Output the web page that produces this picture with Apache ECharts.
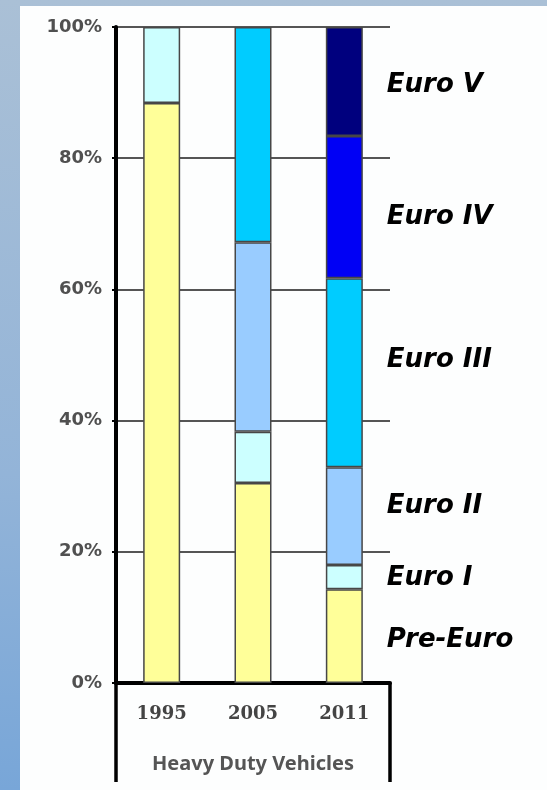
<!DOCTYPE html>
<html>
<head>
<meta charset="utf-8">
<script src="https://cdn.jsdelivr.net/npm/echarts@6/dist/echarts.min.js"></script>
<style>
  html, body { margin: 0; padding: 0; }
  body {
    width: 547px; height: 790px; position: relative; overflow: hidden;
    background: linear-gradient(to bottom, #aac0d6 0%, #93b4d8 60%, #78a6d8 100%);
  }
  #panel { position: absolute; left: 20px; top: 6px; right: 0; bottom: 0; background: #fdfefe; }
  #main { position: absolute; left: 0; top: 0; width: 547px; height: 790px; }
</style>
</head>
<body>
<div id="panel"></div>
<div id="main"></div>
<script>
// years on the x axis
var categories = ['1995', '2005', '2011'];

// share of the fleet (%) per emission class, stacked bottom -> top
var preEuro  = [88.4, 30.5, 14.3];
var euroI    = [11.6, 7.8, 3.7];
var euroII   = [null, 28.9, 14.9];
var euroIII  = [null, 32.8, 28.8];
var euroIV   = [null, null, 21.7];
var euroV    = [null, null, 16.6];

var seriesNames = ['Pre-Euro', 'Euro I', 'Euro II', 'Euro III', 'Euro IV', 'Euro V'];
var seriesValues = [preEuro, euroI, euroII, euroIII, euroIV, euroV];
var seriesColors = ['#ffff99', '#ccffff', '#99ccff', '#00ccff', '#0000f5', '#00007e'];
// small nudges so the class names sit where the original put them
var labelOffsets = [[0, 4], [0, 1], [0, -10], [0, -12], [0, 10], [0, 4]];

var myChart = echarts.init(document.getElementById('main'));

var series = seriesNames.map(function (name, k) {
  return {
    name: name,
    type: 'bar',
    stack: 'fleet',
    barWidth: 37,
    xAxisIndex: 0,
    itemStyle: {
      color: seriesColors[k],
      borderColor: '#474747',
      borderWidth: 1.5
    },
    label: {
      show: false,
      position: 'right',
      distance: 24,
      offset: labelOffsets[k],
      formatter: name,
      color: '#000',
      fontFamily: 'DejaVu Sans',
      fontWeight: 'bold',
      fontStyle: 'italic',
      fontSize: 26
    },
    data: seriesValues[k].map(function (v, i) {
      // only the last column carries the class names
      return i === categories.length - 1 ? { value: v, label: { show: true } } : v;
    })
  };
});

var option = {
  animation: false,
  grid: { left: 116, top: 27, width: 274, height: 656 },
  xAxis: [
    {
      type: 'category',
      data: categories,
      axisLine: { lineStyle: { color: '#000', width: 4 } },
      axisTick: { show: false },
      axisLabel: {
        margin: 22,
        color: '#444',
        fontFamily: 'DejaVu Serif',
        fontWeight: 'bold',
        fontSize: 18
      }
    },
    {
      // box lines under the year labels
      type: 'value',
      position: 'bottom',
      min: 0,
      max: 1,
      interval: 1,
      axisLine: { show: false },
      axisTick: { show: true, length: 99, lineStyle: { color: '#000', width: 3.5 } },
      axisLabel: { show: false },
      splitLine: { show: false },
      name: 'Heavy Duty Vehicles',
      nameLocation: 'middle',
      nameGap: 71,
      nameTextStyle: {
        color: '#555',
        fontFamily: 'Noto Sans',
        fontWeight: 'bold',
        fontSize: 20,
        verticalAlign: 'top'
      }
    }
  ],
  yAxis: {
    type: 'value',
    min: 0,
    max: 100,
    interval: 20,
    axisLine: { show: true, lineStyle: { color: '#000', width: 4 } },
    axisTick: { show: true, length: 4, lineStyle: { color: '#000', width: 2 } },
    axisLabel: {
      formatter: '{value}%',
      margin: 14,
      color: '#505050',
      fontFamily: 'DejaVu Sans',
      fontWeight: 'bold',
      fontSize: 18
    },
    splitLine: { lineStyle: { color: '#555', width: 2 } }
  },
  series: series
};

myChart.setOption(option);
</script>
</body>
</html>
